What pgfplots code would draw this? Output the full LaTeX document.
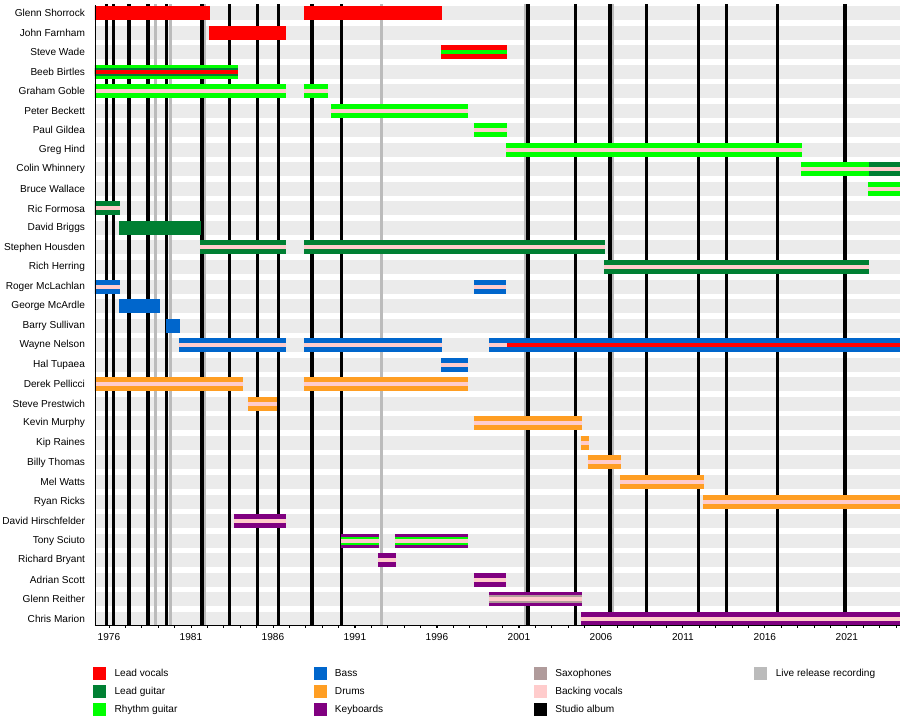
\documentclass[border=0pt]{standalone}
\usepackage{pgfplots}
\pgfplotsset{compat=1.18}
\usepackage{fontspec}
\setmainfont{Liberation Sans}
\definecolor{lv}{HTML}{FF0000}
\definecolor{lg}{HTML}{008033}
\definecolor{rg}{HTML}{00FF00}
\definecolor{bs}{HTML}{0066CC}
\definecolor{dr}{HTML}{FF9E23}
\definecolor{kb}{HTML}{800080}
\definecolor{sx}{HTML}{B09B9B}
\definecolor{bv}{HTML}{FFCCCC}
\definecolor{lr}{HTML}{BBBBBB}
\definecolor{band}{HTML}{EBEBEB}
\newcommand\legsq[1]{\addlegendimage{legend image code/.code={\fill[#1] (0pt,-6pt) rectangle (12pt,6pt);}}}
\newcommand\leg[1]{\addlegendentry{\hspace*{9pt}\makebox[199pt][l]{#1}}}
\pgfplotsset{
  o/.style={forget plot, line width=14pt},
  m/.style={forget plot, line width=8pt},
  i/.style={forget plot, line width=4pt},
  bg/.style={forget plot, line width=14pt, color=band},
  studio/.style={forget plot, line width=3.6pt, color=black},
  live/.style={forget plot, line width=3pt, color=lr},
}
\begin{document}
\begin{tikzpicture}
\begin{axis}[
  scale only axis, width=805pt, height=620pt,
  xmin=1975.15, xmax=2024.24,
  ymin=0.68, ymax=32.41,
  axis on top,
  axis lines*=left,
  axis line style={line width=0.8pt},
  xtick={1976,1981,...,2021},
  minor xtick={1975,...,2024},
  tick align=outside,
  major tick length=3pt, minor tick length=3pt,
  xtick style={black, line width=0.8pt},
  minor tick style={black, line width=0.8pt},
  ytick={1,...,32},
  yticklabels={Chris Marion, Glenn Reither, Adrian Scott, Richard Bryant, Tony Sciuto, David Hirschfelder, Ryan Ricks, Mel Watts, Billy Thomas, Kip Raines, Kevin Murphy, Steve Prestwich, Derek Pellicci, Hal Tupaea, Wayne Nelson, Barry Sullivan, George McArdle, Roger McLachlan, Rich Herring, Stephen Housden, David Briggs, Ric Formosa, Bruce Wallace, Colin Whinnery, Greg Hind, Paul Gildea, Peter Beckett, Graham Goble, Beeb Birtles, Steve Wade, John Farnham, Glenn Shorrock},
  ytick style={draw=none},
  tick label style={font=\fontsize{10.1}{12}\selectfont},
  y tick label style={xshift=-3.5pt},
  x tick label style={yshift=-2pt, /pgf/number format/1000 sep={}, /pgf/number format/assume math mode=true},
  legend columns=4,
  legend cell align=left,
  legend style={draw=none, fill=none, inner sep=0pt, at={(rel axis cs:0,0)}, anchor=north west, xshift=-2pt, yshift=-42pt, font=\fontsize{10.1}{12}\selectfont, /tikz/column sep=0pt, /tikz/row sep=5.5pt, nodes={inner sep=0pt}},
]
% legend
\legsq{lv}\leg{Lead vocals}
\legsq{bs}\leg{Bass}
\legsq{sx}\leg{Saxophones}
\legsq{lr}\leg{Live release recording}
\legsq{lg}\leg{Lead guitar}
\legsq{dr}\leg{Drums}
\legsq{bv}\leg{Backing vocals}
\addlegendimage{empty legend}\addlegendentry{}
\legsq{rg}\leg{Rhythm guitar}
\legsq{kb}\leg{Keyboards}
\legsq{black}\leg{Studio album}
% background bands
\pgfplotsinvokeforeach{1,...,32}{\addplot[bg] coordinates {(1975,#1) (2025,#1)};}
% live releases
\pgfplotsinvokeforeach{1978.81,1979.74,1981.80,1992.61,2001.41,2006.72}{\addplot[live] coordinates {(#1,0) (#1,34)};}
% studio albums
\pgfplotsinvokeforeach{1975.84,1976.27,1977.24,1978.40,1979.50,1981.66,1983.34,1985.05,1986.33,1988.40,1990.17,2001.57,2004.44,2006.55,2008.79,2011.94,2013.65,2016.76,2020.90}{\addplot[studio] coordinates {(#1,0) (#1,34)};}
% Glenn Shorrock
\addplot[o,lv] coordinates {(1975,32) (1982.17,32)};
\addplot[o,lv] coordinates {(1987.90,32) (1996.31,32)};
% John Farnham
\addplot[o,lv] coordinates {(1982.10,31) (1986.80,31)};
% Steve Wade
\addplot[o,lv] coordinates {(1996.25,30) (2000.27,30)};
\addplot[i,rg] coordinates {(1996.25,30) (2000.27,30)};
% Beeb Birtles
\addplot[o,rg] coordinates {(1975,29) (1983.87,29)};
\addplot[m,lg] coordinates {(1975,29) (1983.87,29)};
\addplot[i,lv] coordinates {(1975,29) (1983.87,29)};
% Graham Goble
\addplot[o,rg] coordinates {(1975,28) (1986.80,28)};
\addplot[i,bv] coordinates {(1975,28) (1986.80,28)};
\addplot[o,rg] coordinates {(1987.90,28) (1989.36,28)};
\addplot[i,bv] coordinates {(1987.90,28) (1989.36,28)};
% Peter Beckett
\addplot[o,rg] coordinates {(1989.54,27) (1997.90,27)};
\addplot[i,bv] coordinates {(1989.54,27) (1997.90,27)};
% Paul Gildea
\addplot[o,rg] coordinates {(1998.26,26) (2000.27,26)};
\addplot[i,bv] coordinates {(1998.26,26) (2000.27,26)};
% Greg Hind
\addplot[o,rg] coordinates {(2000.21,25) (2018.26,25)};
\addplot[i,bv] coordinates {(2000.21,25) (2018.26,25)};
% Colin Whinnery
\addplot[o,rg] coordinates {(2018.20,24) (2022.35,24)};
\addplot[o,lg] coordinates {(2022.35,24) (2025,24)};
\addplot[i,bv] coordinates {(2018.20,24) (2025,24)};
% Bruce Wallace
\addplot[o,rg] coordinates {(2022.29,23) (2025,23)};
\addplot[i,bv] coordinates {(2022.29,23) (2025,23)};
% Ric Formosa
\addplot[o,lg] coordinates {(1975,22) (1976.68,22)};
\addplot[i,bv] coordinates {(1975,22) (1976.68,22)};
% David Briggs
\addplot[o,lg] coordinates {(1976.62,21) (1981.62,21)};
% Stephen Housden
\addplot[o,lg] coordinates {(1981.55,20) (1986.80,20)};
\addplot[i,bv] coordinates {(1981.55,20) (1986.80,20)};
\addplot[o,lg] coordinates {(1987.90,20) (2006.25,20)};
\addplot[i,bv] coordinates {(1987.90,20) (2006.25,20)};
% Rich Herring
\addplot[o,lg] coordinates {(2006.19,19) (2022.35,19)};
\addplot[i,bv] coordinates {(2006.19,19) (2022.35,19)};
% Roger McLachlan
\addplot[o,bs] coordinates {(1975,18) (1976.68,18)};
\addplot[i,bv] coordinates {(1975,18) (1976.68,18)};
\addplot[o,bs] coordinates {(1998.26,18) (2000.24,18)};
\addplot[i,bv] coordinates {(1998.26,18) (2000.24,18)};
% George McArdle
\addplot[o,bs] coordinates {(1976.62,17) (1979.12,17)};
% Barry Sullivan
\addplot[o,bs] coordinates {(1979.48,16) (1980.34,16)};
% Wayne Nelson
\addplot[o,bs] coordinates {(1980.27,15) (1986.80,15)};
\addplot[i,bv] coordinates {(1980.27,15) (1986.80,15)};
\addplot[o,bs] coordinates {(1987.90,15) (1996.31,15)};
\addplot[i,bv] coordinates {(1987.90,15) (1996.31,15)};
\addplot[o,bs] coordinates {(1999.18,15) (2025,15)};
\addplot[i,bv] coordinates {(1999.18,15) (2000.27,15)};
\addplot[i,lv] coordinates {(2000.27,15) (2025,15)};
% Hal Tupaea
\addplot[o,bs] coordinates {(1996.25,14) (1997.90,14)};
\addplot[i,bv] coordinates {(1996.25,14) (1997.90,14)};
% Derek Pellicci
\addplot[o,dr] coordinates {(1975,13) (1984.18,13)};
\addplot[i,bv] coordinates {(1975,13) (1984.18,13)};
\addplot[o,dr] coordinates {(1987.90,13) (1997.90,13)};
\addplot[i,bv] coordinates {(1987.90,13) (1997.90,13)};
% Steve Prestwich
\addplot[o,dr] coordinates {(1984.48,12) (1986.25,12)};
\addplot[i,bv] coordinates {(1984.48,12) (1986.25,12)};
% Kevin Murphy
\addplot[o,dr] coordinates {(1998.26,11) (2004.85,11)};
\addplot[i,bv] coordinates {(1998.26,11) (2004.85,11)};
% Kip Raines
\addplot[o,dr] coordinates {(2004.79,10) (2005.27,10)};
\addplot[i,bv] coordinates {(2004.79,10) (2005.27,10)};
% Billy Thomas
\addplot[o,dr] coordinates {(2005.21,9) (2007.23,9)};
\addplot[i,bv] coordinates {(2005.21,9) (2007.23,9)};
% Mel Watts
\addplot[o,dr] coordinates {(2007.16,8) (2012.29,8)};
\addplot[i,bv] coordinates {(2007.16,8) (2012.29,8)};
% Ryan Ricks
\addplot[o,dr] coordinates {(2012.23,7) (2025,7)};
\addplot[i,bv] coordinates {(2012.23,7) (2025,7)};
% David Hirschfelder
\addplot[o,kb] coordinates {(1983.63,6) (1986.80,6)};
\addplot[i,bv] coordinates {(1983.63,6) (1986.80,6)};
% Tony Sciuto
\addplot[o,kb] coordinates {(1990.15,5) (1992.47,5)};
\addplot[m,rg] coordinates {(1990.15,5) (1992.47,5)};
\addplot[i,bv] coordinates {(1990.15,5) (1992.47,5)};
\addplot[o,kb] coordinates {(1993.45,5) (1997.90,5)};
\addplot[m,rg] coordinates {(1993.45,5) (1997.90,5)};
\addplot[i,bv] coordinates {(1993.45,5) (1997.90,5)};
% Richard Bryant
\addplot[o,kb] coordinates {(1992.41,4) (1993.51,4)};
\addplot[i,bv] coordinates {(1992.41,4) (1993.51,4)};
% Adrian Scott
\addplot[o,kb] coordinates {(1998.26,3) (2000.24,3)};
\addplot[i,bv] coordinates {(1998.26,3) (2000.24,3)};
% Glenn Reither
\addplot[o,kb] coordinates {(1999.18,2) (2004.85,2)};
\addplot[m,sx] coordinates {(1999.18,2) (2004.85,2)};
\addplot[i,bv] coordinates {(1999.18,2) (2004.85,2)};
% Chris Marion
\addplot[o,kb] coordinates {(2004.79,1) (2025,1)};
\addplot[i,bv] coordinates {(2004.79,1) (2025,1)};
\end{axis}
\pgfresetboundingbox
\path (current axis.south west) ++(-95pt,-100pt) rectangle ++(900pt,725pt);
\end{tikzpicture}
\end{document}
